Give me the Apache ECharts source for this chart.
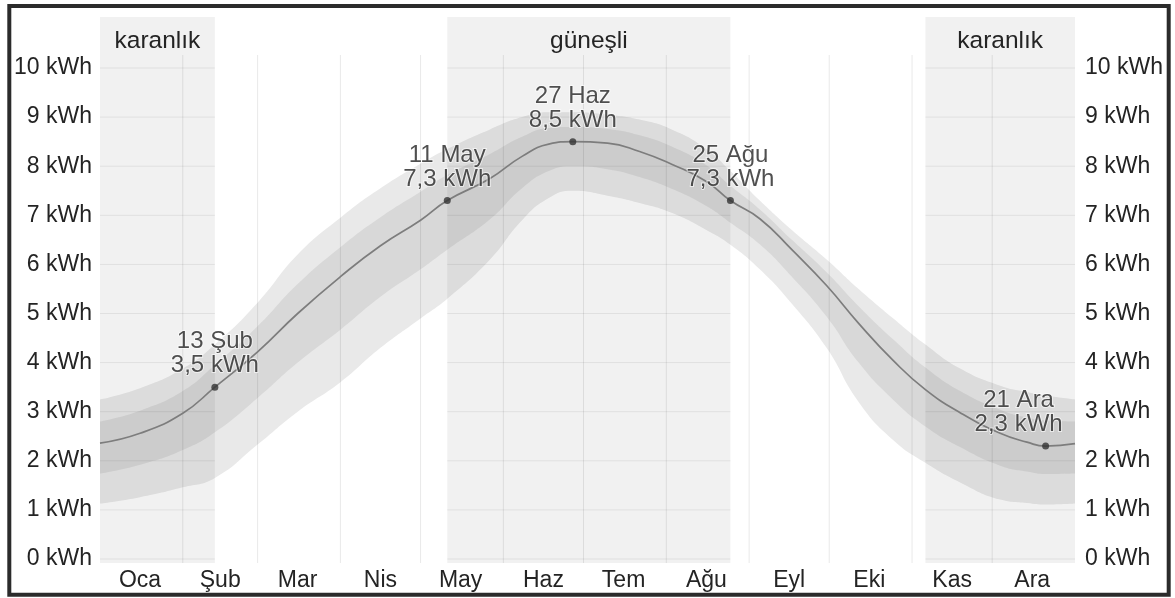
<!DOCTYPE html>
<html><head><meta charset="utf-8">
<script src="https://cdn.jsdelivr.net/npm/echarts@6.0.0/dist/echarts.min.js"></script>
<style>html,body{margin:0;padding:0;background:#fff}#c{width:1175px;height:598px}</style>
</head><body><div id="c"></div><script>
// Day of year (0 = 1 Oca)
const days = [0,15,31,43,59,74,90,105,120,130,146,158,168,177,190,202,214,227,236,247,259,272,284,297,309,322,337,347,354,365];
// Average daily incident solar energy (kWh)
const avg  = [2.36,2.56,2.97,3.5,4.22,5.0,5.75,6.38,6.9,7.3,7.75,8.2,8.45,8.5,8.47,8.3,8.04,7.69,7.3,6.93,6.3,5.57,4.8,4.04,3.45,2.98,2.56,2.38,2.3,2.35];
// 90th percentile
const p90  = [3.25,3.48,3.88,4.37,5.22,6.2,6.95,7.55,8.05,8.35,8.75,9.0,9.1,9.1,9.05,8.95,8.75,8.35,7.9,7.3,6.7,6.1,5.5,4.9,4.37,3.88,3.53,3.4,3.33,3.25];
// 75th percentile
const p75  = [2.8,3.02,3.42,3.95,4.74,5.6,6.35,6.96,7.48,7.82,8.25,8.6,8.78,8.8,8.76,8.63,8.4,8.02,7.6,7.12,6.5,5.84,5.15,4.47,3.9,3.42,3.04,2.88,2.82,2.8];
// 25th percentile
const p25  = [1.74,1.92,2.22,2.58,3.28,4.0,4.67,5.34,5.9,6.3,6.92,7.55,7.9,8.0,7.94,7.78,7.54,7.19,6.85,6.41,5.75,4.94,4.0,3.24,2.7,2.28,1.9,1.78,1.73,1.74];
// 10th percentile
const p10  = [1.13,1.26,1.46,1.65,2.33,3.0,3.6,4.3,4.9,5.3,6.1,6.9,7.35,7.5,7.4,7.25,7.05,6.7,6.4,5.9,5.2,4.3,3.2,2.42,1.96,1.56,1.21,1.14,1.11,1.13];

const monthNames  = ['Oca','Şub','Mar','Nis','May','Haz','Tem','Ağu','Eyl','Eki','Kas','Ara'];
const monthStarts = [31,59,90,120,151,181,212,243,273,304,334];
const monthMids   = [15,45,74,105,135,166,196,227,258,288,319,349];
const yTicks      = [0,1,2,3,4,5,6,7,8,9,10];
const yUnit       = 'kWh';

// Shaded periods: [start day, end day, label]
const periodStart = [0,130,309];
const periodEnd   = [43,236,365];
const periodNames = ['karanlık','güneşli','karanlık'];

// Highlighted points
const hlDays   = [43,130,177,236,354];
const hlValues = [3.5,7.3,8.5,7.3,2.3];
const hlDates  = ['13 Şub','11 May','27 Haz','25 Ağu','21 Ara'];
const hlTexts  = ['3,5 kWh','7,3 kWh','8,5 kWh','7,3 kWh','2,3 kWh'];

const FONT = '"Liberation Sans", Arial, Helvetica, sans-serif';
const TXT = '#242424';
const labelOffsetByDate = {'21 Ara': [-27, 0]};

const chart = echarts.init(document.getElementById('c'), null, {renderer: 'canvas'});
const pts = arr => days.map((d, i) => [d, arr[i]]);

const yAxisBase = {
  type: 'value', min: 0, max: 10, interval: 1,
  axisLine: {show: false}, axisTick: {show: false}, splitLine: {show: false},
  axisLabel: {customValues: yTicks, formatter: v => v + ' ' + yUnit, fontSize: 23, color: TXT, fontFamily: FONT}
};

// filled area from the x axis up to a percentile curve (painted in order, each covering the previous)
const fillTo = (arr, color) => ({
  type: 'line', data: pts(arr), smooth: true, symbol: 'none', lineStyle: {width: 0},
  areaStyle: {color: color, opacity: 1, origin: 'start'}, z: 1, silent: true
});

const option = {
  animation: false,
  backgroundColor: '#fff',
  grid: {left: 100, right: 100, top: 68, bottom: 39},
  xAxis: {
    type: 'value', min: 0, max: 365,
    axisLine: {show: false}, axisTick: {show: false}, splitLine: {show: false},
    axisLabel: {customValues: monthMids, formatter: v => monthNames[monthMids.indexOf(v)],
      fontSize: 23, color: TXT, fontFamily: FONT, margin: 10}
  },
  yAxis: [
    Object.assign({}, yAxisBase, {position: 'left', axisLabel: Object.assign({}, yAxisBase.axisLabel, {margin: 8})}),
    Object.assign({}, yAxisBase, {position: 'right', axisLabel: Object.assign({}, yAxisBase.axisLabel, {margin: 10})})
  ],
  graphic: [{
    type: 'rect', shape: {x: 9.3, y: 6, width: 1159.4, height: 588.7},
    style: {fill: 'none', stroke: '#2b2b2b', lineWidth: 4}, z: 100, silent: true
  }],
  series: [
    // percentile bands: 90 (outer), 75 (inner), 25 (outer), 10 (white)
    fillTo(p90, '#e9e9e9'),
    fillTo(p75, '#d8d8d8'),
    fillTo(p25, '#e9e9e9'),
    fillTo(p10, '#ffffff'),
    // month boundary lines
    {
      type: 'custom', z: 2, silent: true, clip: false,
      data: monthStarts.map(d => [d]),
      renderItem: (params, api) => {
        const top = api.coord([api.value(0), 10]);
        const bot = api.coord([api.value(0), 0]);
        return {type: 'line', shape: {x1: top[0], y1: top[1] - 13, x2: bot[0], y2: bot[1] + 4},
          style: {stroke: 'rgba(0,0,0,0.09)', lineWidth: 1}};
      }
    },
    // shaded periods with their labels and horizontal grid lines
    {
      type: 'custom', z: 3, silent: true, clip: false,
      data: periodStart.map((s, i) => [s, periodEnd[i]]),
      renderItem: (params, api) => {
        const a = api.coord([api.value(0), 0]);
        const b = api.coord([api.value(1), 0]);
        const top = params.coordSys.y - 51;
        const children = [{
          type: 'rect', shape: {x: a[0], y: top, width: b[0] - a[0], height: a[1] + 4 - top},
          style: {fill: 'rgba(0,0,0,0.055)'}
        }];
        yTicks.forEach(t => {
          const y = api.coord([0, t])[1];
          children.push({type: 'line', shape: {x1: a[0], y1: y, x2: b[0], y2: y},
            style: {stroke: 'rgba(0,0,0,0.07)', lineWidth: 1}});
        });
        children.push({
          type: 'text', x: (a[0] + b[0]) / 2, y: params.coordSys.y - 27,
          style: {text: periodNames[params.dataIndex], fill: TXT, font: '24.5px ' + FONT,
            textAlign: 'center', textVerticalAlign: 'middle'}
        });
        return {type: 'group', children};
      }
    },
    // average line
    {type: 'line', data: pts(avg), smooth: true, symbol: 'none',
      lineStyle: {color: '#7d7d7d', width: 1.7}, z: 4, silent: true},
    // highlighted points
    {
      type: 'scatter', z: 5, silent: true, symbolSize: 7,
      itemStyle: {color: '#333'},
      data: hlDays.map((d, i) => ({
        value: [d, hlValues[i]],
        label: Object.assign({formatter: hlDates[i] + '\n' + hlTexts[i]},
          labelOffsetByDate[hlDates[i]] ? {offset: labelOffsetByDate[hlDates[i]]} : {})
      })),
      label: {show: true, position: 'top', distance: 6, fontSize: 24, lineHeight: 24,
        color: TXT, fontFamily: FONT, textBorderColor: 'rgba(255,255,255,0.75)', textBorderWidth: 2}
    }
  ]
};
chart.setOption(option);
</script></body></html>
